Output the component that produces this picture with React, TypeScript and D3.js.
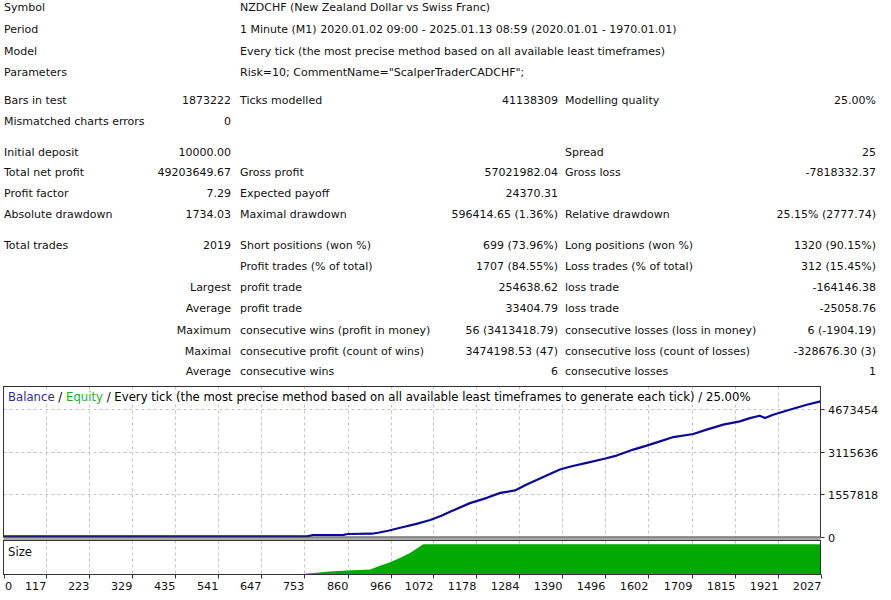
import React, { useEffect, useRef } from 'react';
import * as d3 from 'd3';

const W = 891;
const H = 600;

// strategy tester report, 6 columns: label, value, label, value, label, value
const reportRows: string[][] = [
  ['Symbol', '', 'NZDCHF (New Zealand Dollar vs Swiss Franc)', '', '', ''],
  ['Period', '', '1 Minute (M1) 2020.01.02 09:00 - 2025.01.13 08:59 (2020.01.01 - 1970.01.01)', '', '', ''],
  ['Model', '', 'Every tick (the most precise method based on all available least timeframes)', '', '', ''],
  ['Parameters', '', 'Risk=10; CommentName="ScalperTraderCADCHF";', '', '', ''],
  ['Bars in test', '1873222', 'Ticks modelled', '41138309', 'Modelling quality', '25.00%'],
  ['Mismatched charts errors', '0', '', '', '', ''],
  ['Initial deposit', '10000.00', '', '', 'Spread', '25'],
  ['Total net profit', '49203649.67', 'Gross profit', '57021982.04', 'Gross loss', '-7818332.37'],
  ['Profit factor', '7.29', 'Expected payoff', '24370.31', '', ''],
  ['Absolute drawdown', '1734.03', 'Maximal drawdown', '596414.65 (1.36%)', 'Relative drawdown', '25.15% (2777.74)'],
  ['Total trades', '2019', 'Short positions (won %)', '699 (73.96%)', 'Long positions (won %)', '1320 (90.15%)'],
  ['', '', 'Profit trades (% of total)', '1707 (84.55%)', 'Loss trades (% of total)', '312 (15.45%)'],
  ['', 'Largest', 'profit trade', '254638.62', 'loss trade', '-164146.38'],
  ['', 'Average', 'profit trade', '33404.79', 'loss trade', '-25058.76'],
  ['', 'Maximum', 'consecutive wins (profit in money)', '56 (3413418.79)', 'consecutive losses (loss in money)', '6 (-1904.19)'],
  ['', 'Maximal', 'consecutive profit (count of wins)', '3474198.53 (47)', 'consecutive loss (count of losses)', '-328676.30 (3)'],
  ['', 'Average', 'consecutive wins', '6', 'consecutive losses', '1'],
];

// balance curve (trade #, balance)
const balanceTrades = [11, 760, 775, 850, 860, 920, 935, 960, 990, 1030, 1064, 1090, 1113, 1162, 1204, 1237, 1273, 1302, 1351, 1384, 1413, 1450, 1491, 1524, 1565, 1598, 1631, 1664, 1713, 1746, 1787, 1828, 1853, 1877, 1890, 1910, 1951, 1993, 2027];
const balanceValues = [25000, 25000, 73000, 80000, 109000, 120000, 157000, 230000, 339000, 480000, 620000, 770000, 923000, 1240000, 1434000, 1616000, 1704000, 1923000, 2251000, 2470000, 2590000, 2711000, 2857000, 2981000, 3200000, 3345000, 3502000, 3659000, 3769000, 3929000, 4112000, 4232000, 4352000, 4440000, 4352000, 4476000, 4659000, 4841000, 4962000];

// lot size per trade
const sizeTrades = [755, 817, 858, 916, 940, 965, 990, 1014, 1031, 1047, 2027];
const sizeValues = [1.4, 4.8, 6.5, 8.2, 14.6, 20.2, 27.7, 35.6, 43, 50, 50];

const yTicks = [0, 1557818, 3115636, 4673454];
const xTicks = [0, 117, 223, 329, 435, 541, 647, 753, 860, 966, 1072, 1178, 1284, 1390, 1496, 1602, 1709, 1815, 1921, 2027];

const header = [
  { text: 'Balance', color: '#2b2bb0' },
  { text: ' / ', color: '#000' },
  { text: 'Equity', color: '#1fae1f' },
  { text: ' / Every tick (the most precise method based on all available least timeframes to generate each tick) / 25.00%', color: '#000' },
];

const App = () => {
  const svgRef = useRef<SVGSVGElement>(null);

  useEffect(() => {
    document.body.style.margin = '0';
    const svg = d3.select(svgRef.current);
    svg.selectAll('*').remove();
    svg.attr('font-family', "'DejaVu Sans', sans-serif").attr('font-size', 11);

    svg.append('rect').attr('width', W).attr('height', H).attr('fill', '#fff');

    // report table
    const rowY = [7.3, 29.3, 50.7, 71.7, 100, 120.7, 152.3, 172.3, 193.3, 214, 245.3, 266, 287, 308, 329.5, 350.7, 371];
    const colX = [4, 231, 240, 558, 565, 876];
    const anchors = ['start', 'end', 'start', 'end', 'start', 'end'];
    reportRows.forEach((row, i) => {
      row.forEach((cell, j) => {
        if (!cell) return;
        svg.append('text')
          .attr('x', colX[j]).attr('y', rowY[i] + 4)
          .attr('text-anchor', anchors[j])
          .attr('fill', '#111')
          .text(cell);
      });
    });

    // chart panels
    const left = 3.5, right = 820.5, top = 386.5, bottom = 537;
    const sTop = 540.5, sBottom = 574.5;

    const x = d3.scaleLinear().domain([11, 2027]).range([left, right]);
    const y = d3.scaleLinear().domain([0, 5509000]).range([bottom, top]);
    const ys = d3.scaleLinear().domain([0, 56.3]).range([sBottom, sTop]);
    const tx = (v: number) => Math.round(Math.max(left, x(v))) + 0.5;

    const grid = svg.append('g').attr('stroke', '#c4c4c4').attr('stroke-dasharray', '3,3').attr('stroke-width', 1);
    xTicks.slice(1, -1).forEach(v => {
      grid.append('line').attr('x1', tx(v)).attr('x2', tx(v)).attr('y1', top).attr('y2', bottom);
      grid.append('line').attr('x1', tx(v)).attr('x2', tx(v)).attr('y1', sTop).attr('y2', sBottom);
    });
    yTicks.slice(1).forEach(v => {
      const yy = Math.round(y(v)) + 0.5;
      grid.append('line').attr('x1', left).attr('x2', right).attr('y1', yy).attr('y2', yy);
    });

    // header with white backing
    const headerG = svg.append('g');
    const bg = headerG.append('rect').attr('fill', '#fff');
    const ht = headerG.append('text').attr('x', 8).attr('y', 401).attr('font-size', 11.7);
    header.forEach(h => ht.append('tspan').attr('fill', h.color).text(h.text));
    const bb = (ht.node() as SVGTextElement).getBBox();
    bg.attr('x', bb.x - 2).attr('y', bb.y).attr('width', bb.width + 4).attr('height', bb.height);

    // size histogram
    const area = d3.area<number>()
      .x((d, i) => x(sizeTrades[i]))
      .y0(sBottom)
      .y1(d => ys(d));
    svg.append('path').datum(sizeValues).attr('fill', '#00aa00').attr('d', area);

    svg.append('text').attr('x', 8).attr('y', 555.5).attr('font-size', 11.7).attr('fill', '#111').text('Size');

    // balance
    const line = d3.line<number>()
      .x((d, i) => x(balanceTrades[i]))
      .y(d => y(d));
    svg.append('path').datum(balanceValues)
      .attr('fill', 'none').attr('stroke', '#0a0a9a').attr('stroke-width', 2.2)
      .attr('stroke-linejoin', 'round').attr('d', line);

    // borders
    svg.append('rect').attr('x', left).attr('y', bottom + 0.5).attr('width', right - left).attr('height', sTop - bottom - 0.5).attr('fill', '#a8a8a8');
    svg.append('rect').attr('x', left).attr('y', top).attr('width', right - left).attr('height', bottom - top)
      .attr('fill', 'none').attr('stroke', '#333');
    svg.append('rect').attr('x', left).attr('y', sTop).attr('width', right - left).attr('height', sBottom - sTop)
      .attr('fill', 'none').attr('stroke', '#333');

    // right axis
    yTicks.forEach(v => {
      const yy = Math.round(y(v)) + 0.5;
      svg.append('line').attr('x1', right).attr('x2', right + 4).attr('y1', yy).attr('y2', yy).attr('stroke', '#333');
      svg.append('text').attr('x', 828).attr('y', yy + 4.5).attr('font-size', 11.3).attr('fill', '#111').text(v);
    });

    // bottom axis
    xTicks.forEach((v, i) => {
      const xx = tx(v);
      svg.append('line').attr('x1', xx).attr('x2', xx).attr('y1', sBottom).attr('y2', sBottom + 4).attr('stroke', '#333');
      svg.append('text')
        .attr('x', i === 0 ? 5 : xx)
        .attr('y', 590)
        .attr('font-size', 11.3)
        .attr('text-anchor', i === 0 ? 'start' : 'end')
        .attr('fill', '#111')
        .text(v);
    });
  }, []);

  return <svg ref={svgRef} width={W} height={H} style={{ display: 'block' }} />;
};

export default App;
